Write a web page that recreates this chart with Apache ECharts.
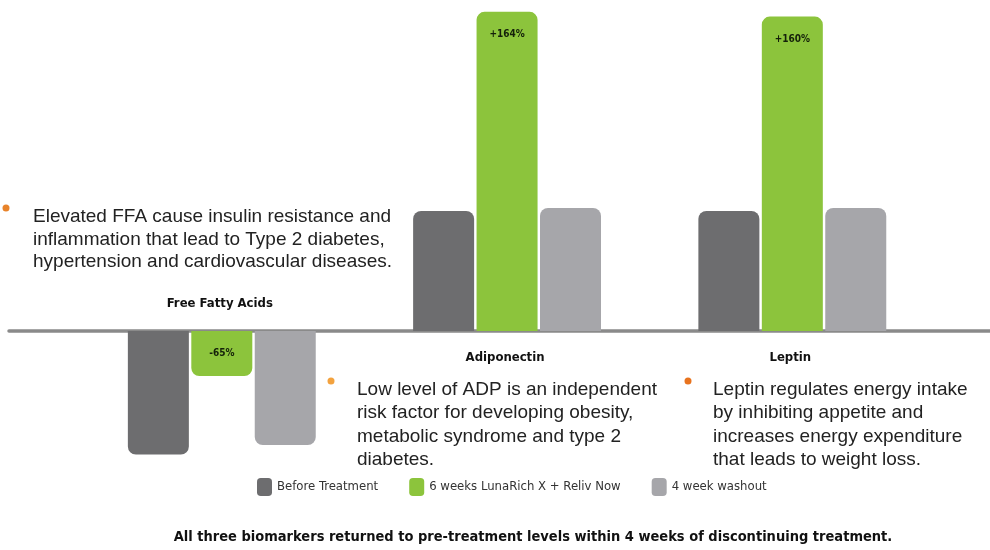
<!DOCTYPE html>
<html>
<head>
<meta charset="utf-8">
<script src="https://cdn.jsdelivr.net/npm/echarts@6/dist/echarts.min.js"></script>
<style>
  html, body { margin: 0; padding: 0; background: #fff; }
  #chart { width: 990px; height: 550px; }
</style>
</head>
<body>
<div id="chart"></div>
<script>
const categories = ['Free Fatty Acids', 'Adiponectin', 'Leptin']
const seriesNames = ['Before Treatment', '6 weeks LunaRich X + Reliv Now', '4 week washout']
// bar heights, as an index where the pre-treatment level = 100
const beforeValues = [-103, 100, 100]
const treatedValues = [-37.5, 266, 262]
const washoutValues = [-95, 102.5, 102.5]
const changeLabels = ['-65%', '+164%', '+160%']
const colors = ['#6d6d6f', '#8cc43c', '#a6a6aa']

const notes = [
  'Elevated FFA cause insulin resistance and\ninflammation that lead to Type 2 diabetes,\nhypertension and cardiovascular diseases.',
  'Low level of ADP is an independent\nrisk factor for developing obesity,\nmetabolic syndrome and type 2\ndiabetes.',
  'Leptin regulates energy intake\nby inhibiting appetite and\nincreases energy expenditure\nthat leads to weight loss.'
]
const footnote = 'All three biomarkers returned to pre-treatment levels within 4 weeks of discontinuing treatment.'

const narrow = '"DejaVu Sans Condensed", "Liberation Sans Narrow", sans-serif'
const chart = echarts.init(document.getElementById('chart'))

function barSeries(name, values, color, withLabel) {
  return {
    name: name,
    type: 'bar',
    barWidth: 61,
    barGap: '4%',
    data: values.map((v, i) => ({
      value: [i, v],
      itemStyle: { borderRadius: v < 0 ? [0, 0, 8, 8] : [8, 8, 0, 0] },
      label: withLabel ? {
        show: true,
        position: v < 0 ? 'inside' : 'insideTop',
        distance: 18,
        formatter: changeLabels[i]
      } : { show: false }
    })),
    itemStyle: { color: color },
    label: {
      fontFamily: narrow,
      fontWeight: 'bold',
      fontSize: 10,
      color: '#14200a'
    }
  }
}

chart.setOption({
  animation: false,
  grid: { left: 9, right: 0, top: 7, bottom: 39 },
  legend: {
    data: seriesNames,
    left: 257,
    top: 478,
    padding: 0,
    icon: 'roundRect',
    itemWidth: 15,
    itemHeight: 18,
    itemGap: 31,
    textStyle: { fontFamily: narrow, fontSize: 13, color: '#333' }
  },
  xAxis: {
    type: 'value',
    min: -0.746,
    max: 2.693,
    axisLine: { show: true, onZero: true, lineStyle: { color: '#8a8a8a', width: 3.5 } },
    axisTick: { show: false },
    axisLabel: { show: false },
    splitLine: { show: false }
  },
  yAxis: {
    type: 'value',
    min: -150,
    max: 270,
    show: false
  },
  series: [
    barSeries(seriesNames[0], beforeValues, colors[0], false),
    barSeries(seriesNames[1], treatedValues, colors[1], true),
    barSeries(seriesNames[2], washoutValues, colors[2], false)
  ]
})

// category names sit on the opposite side of the baseline from the bars
const graphics = categories.map((c, i) => {
  const p = chart.convertToPixel({ gridIndex: 0 }, [i, 0])
  return {
    type: 'text',
    x: p[0] - 2,
    y: beforeValues[i] < 0 ? p[1] - 27 : p[1] + 27,
    style: {
      text: c,
      font: 'bold 13px ' + narrow,
      fill: '#111',
      textAlign: 'center',
      textVerticalAlign: 'middle'
    }
  }
})

const notePos = [[33, 206, 22.5], [357, 378, 23.5], [713, 378, 23.5]]
const bulletPos = [[6, 208, '#e8832a'], [331, 381, '#f3a23e'], [688, 381, '#e8731e']]
notes.forEach((t, i) => {
  graphics.push({
    type: 'text',
    x: notePos[i][0],
    y: notePos[i][1],
    style: {
      text: t,
      font: '19px "Liberation Sans", Arial, sans-serif',
      fill: '#222',
      lineHeight: notePos[i][2],
      textVerticalAlign: 'top'
    }
  })
  graphics.push({
    type: 'circle',
    shape: { cx: bulletPos[i][0], cy: bulletPos[i][1], r: 3.5 },
    style: { fill: bulletPos[i][2] }
  })
})

graphics.push({
  type: 'text',
  x: 533,
  y: 537,
  style: {
    text: footnote,
    font: 'bold 14.5px ' + narrow,
    fill: '#111',
    textAlign: 'center',
    textVerticalAlign: 'middle'
  }
})

chart.setOption({ graphic: graphics })
</script>
</body>
</html>
